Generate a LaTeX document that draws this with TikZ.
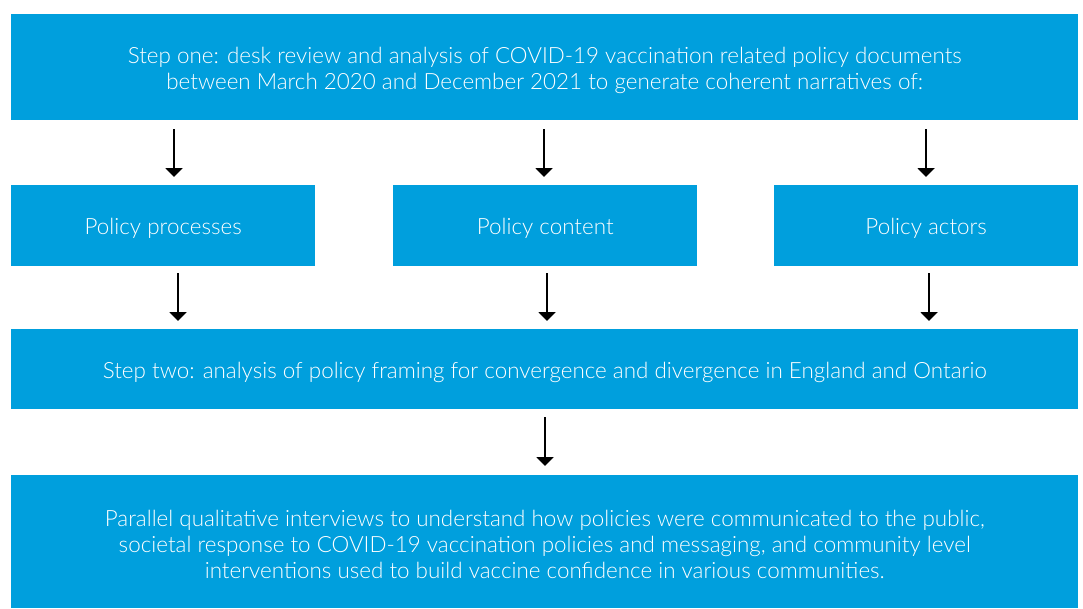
\documentclass[tikz,border=0pt]{standalone}
\usepackage{fontspec}
\IfFontExistsTF{Lato Light}{\setmainfont{Lato Light}}{\setmainfont{Lato}}
\usetikzlibrary{arrows.meta}
\definecolor{boxblue}{RGB}{0,159,221}
% taller first line so the text sits a little lower in its box
\newcommand\firstlinestrut{\rule{0pt}{22.5pt}}
\tikzset{
  box/.style={fill=boxblue, draw=none, text=white, inner sep=0pt, align=center,
    font=\fontsize{22.4}{26}\selectfont},
  arr/.style={line width=2pt, -{Triangle[width=17pt,length=9pt]}},
}
\begin{document}
\begin{tikzpicture}[x=1pt,y=-1pt]
  \useasboundingbox (0,0) rectangle (1083,608);
  % first step
  \node[box, minimum width=1067pt, minimum height=106pt, anchor=north west] (top) at (11,14)
    {\firstlinestrut Step one: desk review and analysis of COVID-19 vaccination related policy documents\\
     between March 2020 and December 2021 to generate coherent narratives of:};
  % three narratives
  \node[box, minimum width=304pt, minimum height=81pt, anchor=north west] (proc) at (11,185) {\firstlinestrut Policy processes};
  \node[box, minimum width=304pt, minimum height=81pt, anchor=north west] (cont) at (393,185) {\firstlinestrut Policy content};
  \node[box, minimum width=304pt, minimum height=81pt, anchor=north west] (act) at (774,185) {\firstlinestrut Policy actors};
  % second step
  \node[box, minimum width=1067pt, minimum height=80pt, anchor=north west] (two) at (11,329)
    {\firstlinestrut Step two: analysis of policy framing for convergence and divergence in England and Ontario};
  % interviews
  \node[box, minimum width=1067pt, minimum height=133pt, anchor=north west] (intv) at (11,475)
    {\firstlinestrut Parallel qualitative interviews to understand how policies were communicated to the public,\\
     societal response to COVID-19 vaccination policies and messaging, and community level\\
     interventions used to build vaccine confidence in various communities.};
  % arrow columns
  \coordinate (c1) at (174,0);
  \coordinate (c2) at (544,0);
  \coordinate (c3) at (926,0);
  \coordinate (d1) at (178,0);
  \coordinate (d2) at (547,0);
  \coordinate (d3) at (929,0);
  \coordinate (e1) at (545,0);
  \draw[arr, shorten <=9pt, shorten >=8pt] (top.south -| c1) -- (proc.north -| c1);
  \draw[arr, shorten <=9pt, shorten >=8pt] (top.south -| c2) -- (cont.north -| c2);
  \draw[arr, shorten <=9pt, shorten >=8pt] (top.south -| c3) -- (act.north -| c3);
  \draw[arr, shorten <=7pt, shorten >=8pt] (proc.south -| d1) -- (two.north -| d1);
  \draw[arr, shorten <=7pt, shorten >=8pt] (cont.south -| d2) -- (two.north -| d2);
  \draw[arr, shorten <=7pt, shorten >=8pt] (act.south -| d3) -- (two.north -| d3);
  \draw[arr, shorten <=8pt, shorten >=9pt] (two.south -| e1) -- (intv.north -| e1);
\end{tikzpicture}
\end{document}
